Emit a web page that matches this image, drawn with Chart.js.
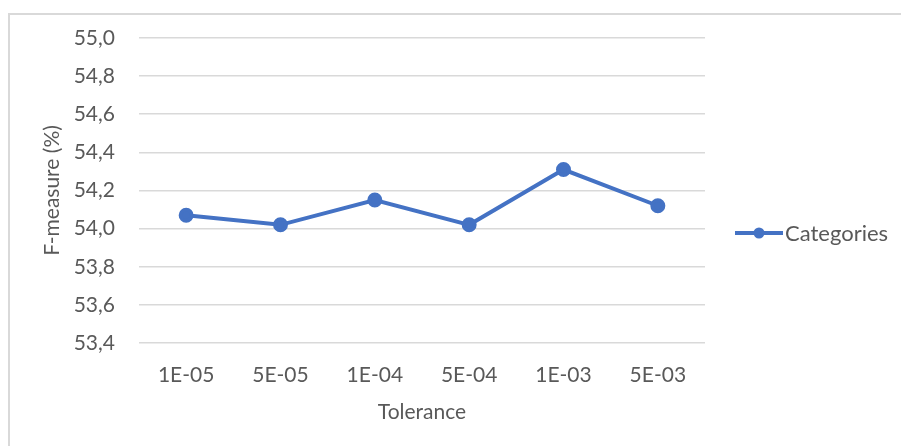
<!DOCTYPE html>
<html lang="en">
<head>
  <meta charset="UTF-8">
  <script src="https://cdn.jsdelivr.net/npm/chart.js"></script>
  <title>F-measure vs Tolerance</title>
  <style>
    html, body { margin: 0; padding: 0; background: #fff; }
    #frame {
      position: absolute; left: 8px; top: 13px; width: 900px; height: 440px;
      border-top: 2px solid #d9d9d9; border-left: 2px solid #d9d9d9;
    }
    #wrap { position: absolute; left: 0; top: 0; width: 901px; height: 446px; }
  </style>
</head>
<body>
<div id="frame"></div>
<div id="wrap"><canvas id="chart"></canvas></div>
<script>
  // data
  const tolerances = ['1E-05', '5E-05', '1E-04', '5E-04', '1E-03', '5E-03'];
  const fMeasure = [54.07, 54.02, 54.15, 54.02, 54.31, 54.12];
  const seriesName = 'Categories';

  const blue = '#4472C4';
  const grey = '#595959';
  const font = 'Lato';
  const fsize = 21;

  // legend drawn by hand to sit where the original one is
  const sideLegend = {
    id: 'sideLegend',
    afterDraw(chart) {
      const ctx = chart.ctx;
      const x = chart.chartArea.right + 30;
      const y = 233;
      ctx.save();
      ctx.strokeStyle = blue;
      ctx.lineWidth = 4;
      ctx.beginPath();
      ctx.moveTo(x, y);
      ctx.lineTo(x + 48, y);
      ctx.stroke();
      ctx.fillStyle = blue;
      ctx.beginPath();
      ctx.arc(x + 24, y, 5.5, 0, Math.PI * 2);
      ctx.fill();
      ctx.fillStyle = grey;
      ctx.font = '22px "' + font + '"';
      ctx.textBaseline = 'middle';
      ctx.fillText(seriesName, x + 50, y + 1);
      ctx.restore();
    }
  };

  new Chart(document.getElementById('chart'), {
    type: 'line',
    data: {
      labels: tolerances,
      datasets: [{
        label: seriesName,
        data: fMeasure,
        borderColor: blue,
        backgroundColor: blue,
        borderWidth: 4,
        pointRadius: 5.5,
        pointHoverRadius: 5.5,
        fill: false,
        tension: 0
      }]
    },
    options: {
      responsive: true,
      maintainAspectRatio: false,
      animation: false,
      layout: { padding: { left: 40, top: 38, right: 196, bottom: 21 } },
      plugins: {
        legend: { display: false },
        tooltip: { enabled: false }
      },
      scales: {
        x: {
          offset: true,
          grid: { display: false },
          border: { display: false },
          ticks: { color: grey, font: { family: font, size: fsize }, padding: 12, maxRotation: 0 },
          title: { display: true, text: 'Tolerance', color: grey, font: { family: font, size: fsize }, padding: 0 },
          afterFit: s => { s.height = 82; }
        },
        y: {
          min: 53.4,
          max: 55.0,
          grid: { color: '#d9d9d9', lineWidth: 1.5, drawTicks: false },
          border: { display: false },
          ticks: {
            stepSize: 0.2,
            color: grey,
            font: { family: font, size: fsize },
            padding: 24,
            callback: v => v.toFixed(1).replace('.', ',')
          },
          title: { display: true, text: 'F-measure (%)', color: grey, font: { family: font, size: fsize }, padding: 0 },
          afterFit: s => { s.width = 99; }
        }
      }
    },
    plugins: [sideLegend]
  });
</script>
</body>
</html>
